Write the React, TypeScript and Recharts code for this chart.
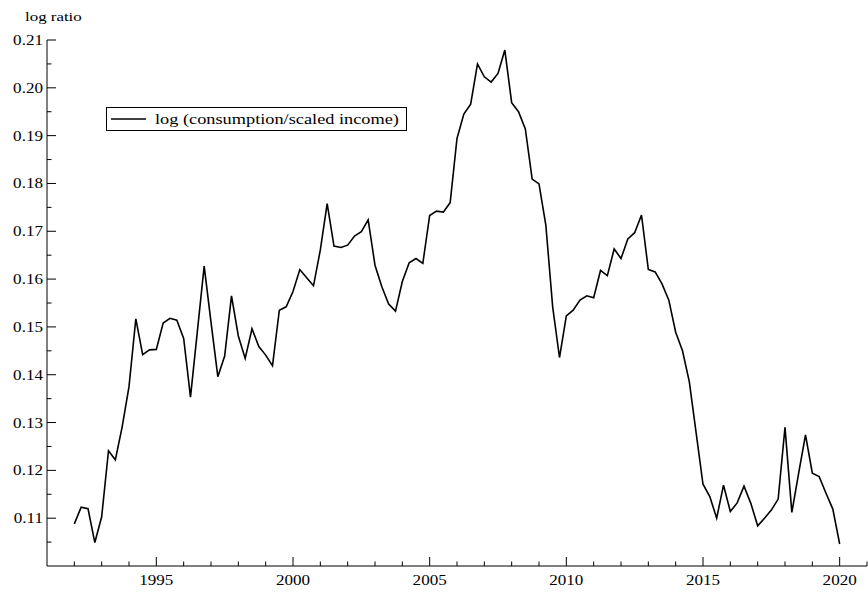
import React from 'react';
import { LineChart, Line, XAxis, YAxis, Legend } from 'recharts';

// Quarterly log ratio, 1992Q1 .. 2020Q1
const startYear = 1992;
const logRatio = [
  0.1088, 0.1123, 0.1120, 0.1049,
  0.1103, 0.1241, 0.1222, 0.1291,
  0.1375, 0.1517, 0.1442, 0.1452,
  0.1453, 0.1508, 0.1518, 0.1514,
  0.1476, 0.1353, 0.1490, 0.1627,
  0.1510, 0.1396, 0.1439, 0.1565,
  0.1481, 0.1434, 0.1496, 0.1459,
  0.1441, 0.1419, 0.1535, 0.1542,
  0.1574, 0.1620, 0.1603, 0.1586,
  0.1661, 0.1758, 0.1669, 0.1666,
  0.1671, 0.1690, 0.1699, 0.1724,
  0.1629, 0.1584, 0.1548, 0.1533,
  0.1595, 0.1634, 0.1643, 0.1633,
  0.1733, 0.1742, 0.1740, 0.1760,
  0.1894, 0.1945, 0.1966, 0.2050,
  0.2023, 0.2012, 0.2030, 0.2079,
  0.1969, 0.1950, 0.1914, 0.1809,
  0.1799, 0.1713, 0.1542, 0.1436,
  0.1523, 0.1535, 0.1556, 0.1565,
  0.1561, 0.1618, 0.1607, 0.1663,
  0.1643, 0.1684, 0.1697, 0.1734,
  0.1620, 0.1615, 0.1590, 0.1556,
  0.1489, 0.1450, 0.1385, 0.1278,
  0.1171, 0.1145, 0.1100, 0.1169,
  0.1114, 0.1132, 0.1167, 0.1131,
  0.1084, 0.1100, 0.1117, 0.1140,
  0.1290, 0.1112, 0.1194, 0.1274,
  0.1194, 0.1187, 0.1152, 0.1119,
  0.1046,
];

const yMajorTicks = [0.11, 0.12, 0.13, 0.14, 0.15, 0.16, 0.17, 0.18, 0.19, 0.20, 0.21];
const yMinorTicks = [0.105, 0.115, 0.125, 0.135, 0.145, 0.155, 0.165, 0.175, 0.185, 0.195, 0.205];
const xMajorTicks = [1995, 2000, 2005, 2010, 2015, 2020];
const xMinorTicks = [
  1992, 1993, 1994, 1996, 1997, 1998, 1999, 2001, 2002, 2003, 2004,
  2006, 2007, 2008, 2009, 2011, 2012, 2013, 2014, 2016, 2017, 2018, 2019, 2021,
];

const seriesName = 'log (consumption/scaled income)';

const chartData = logRatio.map((v, i) => ({ date: startYear + i / 4, value: v }));

const FONT = '"Liberation Serif", "DejaVu Serif", serif';
// glyphs are drawn a bit wider than normal
const STRETCH = 1.22;

function XTick({ x, y, payload }: any) {
  const major = xMajorTicks.includes(payload.value);
  return (
    <g>
      <line x1={x} x2={x} y1={y} y2={y - (major ? 9 : 4.5)} stroke="#000" />
      {major && (
        <text
          transform={`translate(${x},${y + 19}) scale(${STRETCH},1)`}
          textAnchor="middle"
          fontFamily={FONT}
          fontSize={14}
          fill="#000"
        >
          {payload.value}
        </text>
      )}
    </g>
  );
}

function YTick({ x, y, payload }: any) {
  const major = yMajorTicks.some((t) => Math.abs(t - payload.value) < 1e-6);
  return (
    <g>
      <line x1={x} x2={x + (major ? 9 : 4.5)} y1={y} y2={y} stroke="#000" />
      {major && (
        <text
          transform={`translate(${x - 4},${y + 5}) scale(${STRETCH},1)`}
          textAnchor="end"
          fontFamily={FONT}
          fontSize={14}
          fill="#000"
        >
          {payload.value.toFixed(2)}
        </text>
      )}
    </g>
  );
}

function AxisTitle({ viewBox }: any) {
  return (
    <text
      transform={`translate(25,${viewBox.y - 19}) scale(1.3,1)`}
      fontFamily={FONT}
      fontSize={13}
      fill="#000"
    >
      log ratio
    </text>
  );
}

function LegendBox() {
  return (
    <div
      style={{
        boxSizing: 'border-box',
        width: 301,
        height: 24,
        border: '1px solid #000',
        background: '#fff',
        display: 'flex',
        alignItems: 'center',
        fontFamily: FONT,
      }}
    >
      <svg width={48} height={20} style={{ flex: 'none' }}>
        <line x1={4} x2={39} y1={10} y2={10} stroke="#000" strokeWidth={1.6} />
      </svg>
      <span
        style={{
          fontSize: 15,
          whiteSpace: 'nowrap',
          display: 'inline-block',
          transform: 'scaleX(1.22)',
          transformOrigin: 'left center',
        }}
      >
        {seriesName}
      </span>
    </div>
  );
}

export default function App() {
  return (
    <div style={{ position: 'absolute', left: 0, top: 0, background: '#fff' }}>
      <LineChart
        width={868}
        height={596}
        data={chartData}
        margin={{ top: 40, right: 1, bottom: 0, left: 0 }}
      >
        <XAxis
          dataKey="date"
          type="number"
          domain={[1991, 2021]}
          ticks={[...xMinorTicks, ...xMajorTicks].sort((a, b) => a - b)}
          interval={0}
          height={30}
          tickSize={0}
          tickMargin={0}
          tickLine={false}
          axisLine={{ stroke: '#000' }}
          tick={<XTick />}
        />
        <YAxis
          type="number"
          domain={[0.1, 0.21]}
          ticks={[...yMinorTicks, ...yMajorTicks].sort((a, b) => a - b)}
          interval={0}
          width={47}
          tickSize={0}
          tickMargin={0}
          tickLine={false}
          axisLine={{ stroke: '#000' }}
          tick={<YTick />}
          label={{ value: 'log ratio', content: <AxisTitle /> }}
        />
        <Legend
          layout="horizontal"
          verticalAlign="middle"
          align="center"
          content={<LegendBox />}
          wrapperStyle={{ position: 'absolute', left: 106, top: 107, width: 301, height: 24 }}
        />
        <Line
          type="linear"
          dataKey="value"
          name={seriesName}
          stroke="#000"
          strokeWidth={1.6}
          dot={false}
          activeDot={false}
          isAnimationActive={false}
        />
      </LineChart>
    </div>
  );
}
